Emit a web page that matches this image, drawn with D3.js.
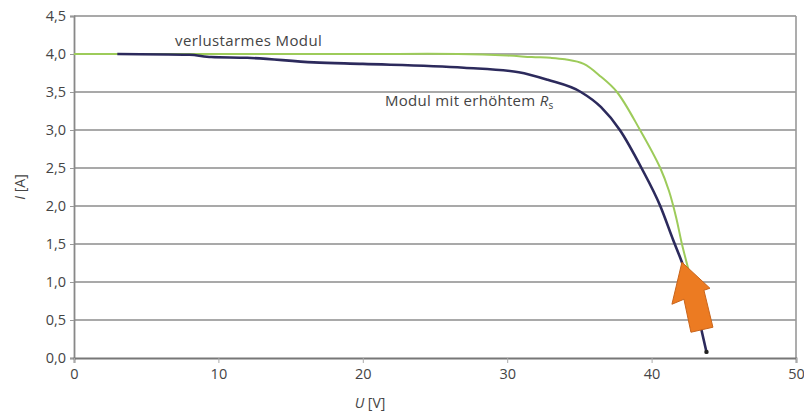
<!DOCTYPE html>
<html><head><meta charset="utf-8">
<script src="https://cdn.jsdelivr.net/npm/d3@7"></script>
<style>
html,body{margin:0;padding:0;background:#fff;}
text{font-family:"Open Sans",sans-serif;fill:#444;}
</style></head>
<body>
<svg id="chart" width="804" height="418"></svg>
<script>
// ---- data ----
const xTicks = [0, 10, 20, 30, 40, 50];
const yTicks = [0, 0.5, 1.0, 1.5, 2.0, 2.5, 3.0, 3.5, 4.0, 4.5];
const yTickLabels = ["0,0","0,5","1,0","1,5","2,0","2,5","3,0","3,5","4,0","4,5"];

const lowLossU = [0, 10, 20, 26.6, 30, 31.7, 33, 34, 35.3, 36.5, 37.6, 39.2, 40.6, 41.2, 41.7, 42.1, 42.5, 42.9];
const lowLossI = [4.0, 4.0, 4.0, 4.0, 3.98, 3.96, 3.95, 3.93, 3.87, 3.7, 3.5, 3.0, 2.5, 2.2, 1.85, 1.5, 1.2, 0.9];

const highRsU = [3.0, 8.0, 9.5, 12, 16.6, 20, 27, 30.8, 32.8, 35.1, 36.5, 37.8, 39.3, 40.6, 41.5, 42.1, 43.0, 43.5, 43.8];
const highRsI = [4.0, 3.99, 3.96, 3.95, 3.89, 3.87, 3.82, 3.76, 3.66, 3.5, 3.3, 3.0, 2.5, 2.0, 1.55, 1.26, 0.75, 0.33, 0.08];

const labelLowLoss = "verlustarmes Modul";
const labelHighRs = "Modul mit erhöhtem ";
const arrowTip = {u: 42.1, i: 1.26};

// ---- drawing ----
const svg = d3.select("#chart");
const x = d3.scaleLinear().domain([0, 50]).range([74, 796]);
const y = d3.scaleLinear().domain([0, 4.5]).range([358, 16]);

// gridlines
svg.append("g").selectAll("line").data(yTicks.filter(d => d > 0)).join("line")
  .attr("x1", x(0)).attr("x2", x(50))
  .attr("y1", d => y(d)).attr("y2", d => y(d))
  .attr("stroke", "#8c8c8c").attr("stroke-width", 1.6);

// right border
svg.append("line").attr("x1", x(50)).attr("x2", x(50)).attr("y1", y(4.5)).attr("y2", y(0))
  .attr("stroke", "#999").attr("stroke-width", 1.6);

// axes
const yAxis = d3.axisLeft(y).tickValues(yTicks).tickFormat((d, i) => yTickLabels[i]).tickSize(4).tickPadding(4);
const gy = svg.append("g").attr("transform", `translate(${x(0)},0)`).call(yAxis);
gy.select(".domain").attr("stroke", "#888").attr("stroke-width", 1.8);
gy.selectAll(".tick line").attr("stroke", "#999");
gy.selectAll(".tick text").attr("font-size", 14.5).attr("fill", "#444").attr("font-family", "Open Sans");

const xAxis = d3.axisBottom(x).tickValues(xTicks).tickFormat(d3.format("d")).tickSize(5).tickPadding(6);
const gx = svg.append("g").attr("transform", `translate(0,${y(0)})`).call(xAxis);
gx.select(".domain").attr("stroke", "#777").attr("stroke-width", 1.8);
gx.selectAll(".tick line").attr("stroke", "#aaa");
gx.selectAll(".tick text").attr("font-size", 14.5).attr("fill", "#444").attr("font-family", "Open Sans");

// axis titles
const xt = svg.append("text").attr("x", 370).attr("y", 408).attr("text-anchor", "middle").attr("font-size", 14);
xt.append("tspan").attr("font-style", "italic").text("U");
xt.append("tspan").text(" [V]");
const yt = svg.append("text").attr("transform", "translate(25,187) rotate(-90)").attr("text-anchor", "middle").attr("font-size", 14);
yt.append("tspan").attr("font-style", "italic").text("I");
yt.append("tspan").text(" [A]");

// lines
const lineSmooth = d3.line().x(d => x(d[0])).y(d => y(d[1])).curve(d3.curveCatmullRom.alpha(0.5));
const lineMono = d3.line().x(d => x(d[0])).y(d => y(d[1])).curve(d3.curveMonotoneX);
const lowLoss = lowLossU.map((u, k) => [u, lowLossI[k]]);
const highRs = highRsU.map((u, k) => [u, highRsI[k]]);

svg.append("path").datum(lowLoss).attr("d", lineSmooth)
  .attr("fill", "none").attr("stroke", "#9dcb5a").attr("stroke-width", 2);
svg.append("path").datum(highRs).attr("d", lineMono)
  .attr("fill", "none").attr("stroke", "#2c2a5c").attr("stroke-width", 2.6);
const last = highRs[highRs.length - 1];
svg.append("circle").attr("cx", x(last[0])).attr("cy", y(last[1])).attr("r", 2.2).attr("fill", "#222");

// arrow annotation
const tx = x(arrowTip.u), ty = y(arrowTip.i);
const arrowShape = [[0,0],[-10,42],[2,37],[9,70],[31,65],[22,28],[28,26]];
svg.append("polygon")
  .attr("points", arrowShape.map(p => [tx + p[0], ty + p[1]].join(",")).join(" "))
  .attr("fill", "#ec7b22").attr("stroke", "#c9651c").attr("stroke-width", 1).attr("stroke-linejoin", "round");

// labels
svg.append("text").attr("x", 175).attr("y", 46).attr("font-size", 15).attr("letter-spacing", 0.4).text(labelLowLoss);
const lt = svg.append("text").attr("x", 385).attr("y", 106).attr("font-size", 15).attr("letter-spacing", 0.3);
lt.append("tspan").text(labelHighRs);
lt.append("tspan").attr("font-style", "italic").text("R");
lt.append("tspan").attr("font-size", 10).attr("dy", 3).text("s");
</script>
</body></html>
